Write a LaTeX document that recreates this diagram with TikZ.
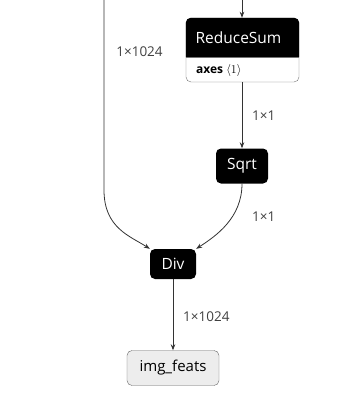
\documentclass[tikz,border=0pt]{standalone}
\usepackage{fontspec}
\setmainfont{Open Sans}
\usetikzlibrary{arrows.meta}
\begin{document}
\begin{tikzpicture}[x=1pt,y=-1pt,
  op/.style={fill=black,text=white,rounded corners=5pt,minimum width=52pt,minimum height=35pt,inner sep=0pt,font=\fontsize{15.5}{17}\selectfont},
  tensor/.style={draw=black!60,fill=black!7,rounded corners=5pt,minimum width=92pt,minimum height=35pt,inner sep=0pt,font=\fontsize{15}{17}\selectfont},
  edge/.style={draw=black!80,line width=0.8pt,-{Stealth[length=6pt,width=4.5pt]}},
  lbl/.style={font=\fontsize{13.5}{15}\selectfont,text=black!75,inner sep=0pt}]
\useasboundingbox (0,0) rectangle (345,410);
% ReduceSum
\node[draw=black!55,fill=white,rounded corners=5pt,minimum width=113pt,minimum height=64pt,inner sep=0pt] (rs) at (242.5,50) {};
\fill (rs.west |- 0,57) [rounded corners=5pt] -- (rs.north west) -- (rs.north east) [sharp corners] -- (rs.east |- 0,57) -- cycle;
\draw[black!55] (rs.west |- 0,57) -- (rs.east |- 0,57);
\node[text=white,font=\fontsize{15.5}{17}\selectfont,inner sep=0pt] (rst) at (238.5,38) {ReduceSum};
\node[anchor=west,font=\fontsize{12}{14}\selectfont,inner sep=0pt] (rsa) at (196,70) {\textbf{axes} $\langle 1\rangle$};
\node[op] (sqrt) at (242,166) {Sqrt};
\node[op,minimum width=46pt,minimum height=30pt] (div) at (173,264) {Div};
\node[tensor] (out) at (173,368) {img\_feats};
\coordinate (topA) at (104,0);
\coordinate (topB) at (242,0);
\draw[edge] (topB) -- (rs.north -| topB);
\draw[edge] (rs.south -| sqrt.north) -- (sqrt.north);
\draw[edge] (topA) -- (104,190) .. controls (104,228) and (130,236) .. (div.north west);
\draw[edge] (sqrt.south) .. controls (242,218) and (216,236) .. (div.north east);
\draw[edge] (div.south) -- (out.north);
\node[lbl] (l1) at (139.5,52) {1×1024};
\node[lbl,anchor=west] (l2) at (252,116) {1×1};
\node[lbl,anchor=west] (l3) at (252,217) {1×1};
\node[lbl,anchor=west] (l4) at (183,317) {1×1024};
\end{tikzpicture}
\end{document}
